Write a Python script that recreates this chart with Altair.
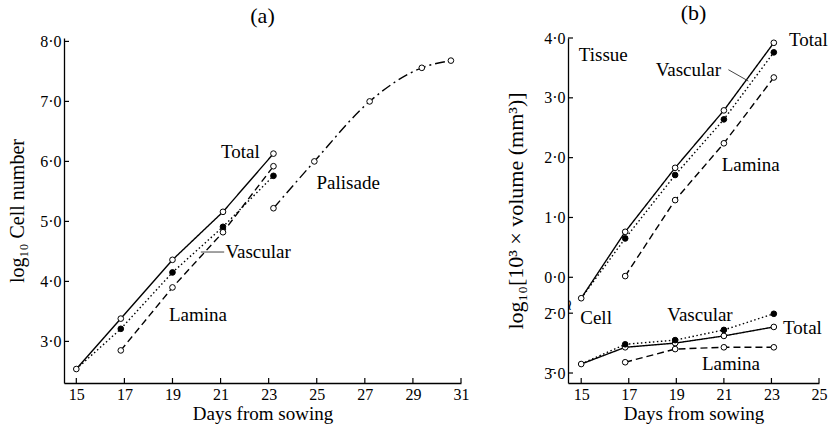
import altair as alt
import pandas as pd

# ---------------- Panel (a): log10 cell number ----------------
a_days = [15, 16.85, 19, 21.1, 23.2]
a_total = [2.54, 3.38, 4.36, 5.16, 6.13]
a_vascular = [2.54, 3.21, 4.15, 4.91, 5.76]
a_lamina_days = [16.85, 19, 21.1, 23.2]
a_lamina = [2.85, 3.90, 4.82, 5.92]
a_palisade_days = [23.2, 24.9, 27.2, 29.37, 30.58]
a_palisade = [5.22, 6.0, 7.0, 7.56, 7.68]

a_x_ticks = [15, 17, 19, 21, 23, 25, 27, 29, 31]
a_y_ticks = [3, 4, 5, 6, 7, 8]

a_label_text = ["Total", "Palisade", "Vascular", "Lamina"]
a_label_x = [21.02, 24.99, 21.2, 18.85]
a_label_y = [6.16, 5.64, 4.49, 3.44]
a_leader_x = [20.18, 21.15]
a_leader_y = [4.49, 4.49]

# ---------------- Panel (b): log10 [10^3 x volume (mm^3)] ----------------
b_days = [15, 16.85, 18.95, 21.0, 23.1]
b_lamina_days = [16.85, 18.95, 21.0, 23.1]
tissue_total = [-0.35, 0.76, 1.83, 2.79, 3.92]
tissue_vascular = [-0.35, 0.65, 1.71, 2.64, 3.76]
tissue_lamina = [0.02, 1.29, 2.24, 3.34]
cell_total = [-2.85, -2.57, -2.50, -2.38, -2.23]
cell_vascular = [-2.85, -2.52, -2.45, -2.28, -2.01]
cell_lamina = [-2.82, -2.60, -2.57, -2.57]
cell_shift = 1.4  # axis break: cell values are drawn 1.4 units higher
b_break = [-0.47]

b_x_ticks = [15, 17, 19, 21, 23, 25]
b_y_ticks = [-1.6, -0.6, 0, 1, 2, 3, 4]

b_label_text = ["Tissue", "Total", "Vascular", "Lamina", "Cell", "Vascular", "Total", "Lamina"]
b_label_x = [14.9, 23.74, 18.13, 20.91, 14.96, 18.62, 23.49, 20.08]
b_label_y = [3.72, 3.97, 3.47, 1.87, -0.68, -0.625, -0.84, -1.445]
b_leader_x = [21.19, 22.03]
b_leader_y = [3.47, 3.28]

FONT = "Liberation Serif"
H = 345
WA = 397
WB = 251

dash_domain = ["solid", "dotted", "dashed", "dashdot"]
dash_range = [[1, 0], [1.5, 2.5], [7, 4], [10, 4, 2, 4]]


def rows(series, style, group, days, vals, marker, shift=0.0, skip_first=False):
    out = []
    for i, (d, v) in enumerate(zip(days, vals)):
        m = marker
        if skip_first and i == 0:
            m = "none"
        out.append(dict(series=series, style=style, group=group, day=d, value=v + shift, marker=m))
    return out


a_rows = []
a_rows += rows("Total", "solid", "t", a_days, a_total, "open")
a_rows += rows("Vascular", "dotted", "v", a_days, a_vascular, "filled", skip_first=True)
a_rows += rows("Lamina", "dashed", "l", a_lamina_days, a_lamina, "open")
a_df = pd.DataFrame(a_rows)
pal_df = pd.DataFrame(dict(day=a_palisade_days, value=a_palisade, marker="open"))

b_rows = []
b_rows += rows("Total", "solid", "tt", b_days, tissue_total, "open")
b_rows += rows("Vascular", "dotted", "tv", b_days, tissue_vascular, "filled", skip_first=True)
b_rows += rows("Lamina", "dashed", "tl", b_lamina_days, tissue_lamina, "open")
b_rows += rows("Total", "solid", "ct", b_days, cell_total, "open", shift=cell_shift)
b_rows += rows("Vascular", "dotted", "cv", b_days, cell_vascular, "filled", shift=cell_shift, skip_first=True)
b_rows += rows("Lamina", "dashed", "cl", b_lamina_days, cell_lamina, "open", shift=cell_shift)
b_df = pd.DataFrame(b_rows)


def panel(df, extra_line, xdom, ydom, width, x_ticks, y_ticks, y_label_expr, y_title,
          lab_text, lab_x, lab_y, lead_x, lead_y, title, y_title_pad, y_title_size, breaks=None):
    xs = alt.Scale(domain=xdom, nice=False, zero=False)
    ys = alt.Scale(domain=ydom, nice=False, zero=False)
    ax_x = alt.Axis(values=x_ticks, title="Days from sowing", labelPadding=3, titlePadding=2,
                    titleFontSize=19, format="d", labelFlush=False)
    ax_y = alt.Axis(values=y_ticks, labelExpr=y_label_expr, title=y_title, labelPadding=3,
                    titlePadding=y_title_pad, titleFontSize=y_title_size, labelFlush=False)

    def X(f):
        return alt.X(f, scale=xs, axis=ax_x)

    def Y(f):
        return alt.Y(f, scale=ys, axis=ax_y)

    dash = alt.StrokeDash("style:N", scale=alt.Scale(domain=dash_domain, range=dash_range), legend=None)
    fill = alt.Fill("marker:N", scale=alt.Scale(domain=["open", "filled"], range=["white", "black"]), legend=None)

    base = alt.Chart(df)
    layers = [base.mark_line(color="black", strokeWidth=1.4).encode(
        x=X("day:Q"), y=Y("value:Q"), strokeDash=dash, detail="group:N", order="day:Q")]
    if extra_line is not None:
        pal = alt.Chart(extra_line).transform_calculate(style="'dashdot'")
        layers.append(pal.mark_line(color="black", strokeWidth=1.4, interpolate="monotone").encode(
            x=X("day:Q"), y=Y("value:Q"), strokeDash=dash))
        layers.append(pal.mark_point(shape="circle", size=32, filled=True, stroke="black",
                                     strokeWidth=1, opacity=1).encode(
            x=X("day:Q"), y=Y("value:Q"), fill=fill))
    layers.append(base.transform_filter("datum.marker != 'none'").mark_point(
        shape="circle", size=32, filled=True, stroke="black", strokeWidth=1, opacity=1).encode(
        x=X("day:Q"), y=Y("value:Q"), fill=fill))
    lab_df = pd.DataFrame(dict(text=lab_text, day=lab_x, value=lab_y))
    layers.append(alt.Chart(lab_df).mark_text(align="left", baseline="middle", font=FONT,
                                              fontSize=19, color="black").encode(
        x=X("day:Q"), y=Y("value:Q"), text="text:N"))
    lead_df = pd.DataFrame(dict(day=lead_x, value=lead_y))
    layers.append(alt.Chart(lead_df).mark_line(color="#444", strokeWidth=1).encode(
        x=X("day:Q"), y=Y("value:Q")))
    # inward tick marks
    xt = pd.DataFrame(dict(day=x_ticks))
    layers.append(alt.Chart(xt).mark_rule(color="black", strokeWidth=1.2).encode(
        x=X("day:Q"), y=alt.value(H), y2=alt.value(H - 5)))
    yt = pd.DataFrame(dict(value=y_ticks))
    layers.append(alt.Chart(yt).mark_rule(color="black", strokeWidth=1.2).encode(
        y=Y("value:Q"), x=alt.value(0), x2=alt.value(5)))
    if breaks is not None:
        bk = pd.DataFrame(dict(value=breaks))
        layers.append(alt.Chart(bk).mark_text(text="\u2240", font="DejaVu Serif", fontSize=15,
                                             align="center", baseline="middle", dx=2,
                                             color="black").encode(
            y=Y("value:Q"), x=alt.value(0)))
    return alt.layer(*layers).properties(
        width=width, height=H,
        title=alt.TitleParams(title, font=FONT, fontSize=22, fontWeight="normal", offset=5),
    )


a_expr = "replace(format(datum.value, '.1f'), '.', '·')"
b_expr = ("datum.value < -1 ? '3\u0304·0' : datum.value < -0.3 ? '2\u0304·0' : "
          "replace(format(datum.value, '.1f'), '.', '·')")

chart_a = panel(a_df, pal_df, [14.488, 31.0], [2.307, 8.057], WA, a_x_ticks, a_y_ticks, a_expr,
                "log₁₀ Cell number", a_label_text, a_label_x, a_label_y, a_leader_x, a_leader_y,
                "(a)", 12, 20)
chart_b = panel(b_df, None, [14.445, 25.0], [-1.767, 4.0], WB, b_x_ticks, b_y_ticks, b_expr,
                "log₁₀[10³ × volume (mm³)]", b_label_text, b_label_x, b_label_y, b_leader_x,
                b_leader_y, "(b)", 16, 22, breaks=b_break)

chart = alt.hconcat(chart_a, chart_b, spacing=35).configure_view(stroke=None).configure_axis(
    domainColor="black", domainWidth=1.3, ticks=False, grid=False,
    labelFont=FONT, labelFontSize=16, labelColor="black",
    titleFont=FONT, titleFontWeight="normal", titleColor="black",
).properties(
    padding={"left": 7, "top": 2, "right": 0, "bottom": 2},
    background="white",
)

chart.save("out.html", embed_options={"renderer": "svg", "actions": False})
